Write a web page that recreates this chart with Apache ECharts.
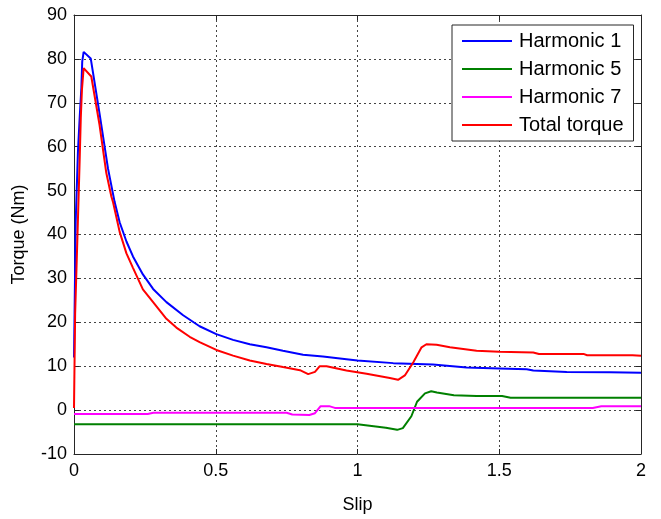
<!DOCTYPE html>
<html>
<head>
<meta charset="utf-8">
<script src="https://cdn.jsdelivr.net/npm/echarts@6/dist/echarts.min.js"></script>
<style>
html,body{margin:0;padding:0;background:#fff;}
#c{width:661px;height:519px;}
</style>
</head>
<body>
<div id="c"></div>
<script>
var seriesNames = ['Harmonic 1', 'Harmonic 5', 'Harmonic 7', 'Total torque'];
var seriesColors = ['#0000ff', '#008000', '#ff00ff', '#ff0000'];
var xTicks = [0, 0.5, 1, 1.5, 2];
var yTicks = [-10, 0, 10, 20, 30, 40, 50, 60, 70, 80, 90];

var h1Slip = [0, 0.002, 0.006, 0.014, 0.02, 0.026, 0.029, 0.034, 0.059, 0.09, 0.12, 0.143, 0.161, 0.185, 0.208, 0.243, 0.279, 0.326, 0.385, 0.443, 0.502, 0.561, 0.62, 0.679, 0.737, 0.808, 0.878, 0.961, 1.0, 1.126, 1.266, 1.385, 1.5, 1.597, 1.62, 1.738, 1.89, 2.0];
var h1Torque = [12, 22, 43, 59, 66.6, 73.4, 79.4, 81.6, 80.1, 67.6, 55, 47.5, 42.8, 38.4, 35, 30.9, 27.6, 24.6, 21.6, 19.1, 17.3, 16.0, 15.0, 14.3, 13.5, 12.6, 12.2, 11.6, 11.3, 10.7, 10.4, 9.7, 9.5, 9.3, 9.0, 8.7, 8.6, 8.5];

var h5Slip = [0, 1.0, 1.05, 1.1, 1.14, 1.16, 1.19, 1.21, 1.238, 1.26, 1.28, 1.34, 1.42, 1.51, 1.54, 2.0];
var h5Torque = [-3.2, -3.2, -3.6, -4.0, -4.5, -4.1, -1.4, 1.9, 3.8, 4.3, 4.0, 3.4, 3.2, 3.2, 2.8, 2.8];

var h7Slip = [0, 0.26, 0.28, 0.75, 0.77, 0.83, 0.85, 0.87, 0.9, 0.92, 1.83, 1.86, 2.0];
var h7Torque = [-0.9, -0.9, -0.6, -0.6, -1.0, -1.1, -0.7, 0.9, 0.9, 0.5, 0.5, 0.9, 0.9];

var totSlip = [0, 0.004, 0.012, 0.02, 0.024, 0.028, 0.034, 0.061, 0.09, 0.114, 0.132, 0.138, 0.161, 0.185, 0.208, 0.243, 0.279, 0.326, 0.361, 0.408, 0.443, 0.502, 0.561, 0.62, 0.679, 0.737, 0.797, 0.826, 0.85, 0.867, 0.891, 0.961, 1.032, 1.114, 1.143, 1.167, 1.197, 1.226, 1.243, 1.279, 1.326, 1.42, 1.5, 1.62, 1.64, 1.797, 1.81, 1.97, 2.0];
var totTorque = [0.5, 22, 39.2, 57, 66.6, 73, 77.9, 76, 65, 54, 48.6, 47.3, 40.6, 35.7, 32.4, 27.5, 24.6, 20.8, 18.8, 16.7, 15.5, 13.7, 12.4, 11.3, 10.5, 9.8, 9.1, 8.2, 8.7, 10.0, 10.0, 9.0, 8.3, 7.3, 6.9, 7.9, 10.9, 14.3, 15.0, 14.9, 14.3, 13.5, 13.3, 13.1, 12.8, 12.8, 12.5, 12.5, 12.4];

function pairs(xs, ys) { return xs.map(function (x, i) { return [x, ys[i]]; }); }
var allData = [pairs(h1Slip, h1Torque), pairs(h5Slip, h5Torque), pairs(h7Slip, h7Torque), pairs(totSlip, totTorque)];

var FONT = '"Liberation Sans", Arial, Helvetica, sans-serif';
var chart = echarts.init(document.getElementById('c'), null, {renderer: 'canvas'});

function xAx(pos, show) {
  return {
    type: 'value', position: pos, min: xTicks[0], max: xTicks[xTicks.length - 1], interval: 0.5,
    axisLine: {show: true, onZero: false, lineStyle: {color: '#262626', width: 1}},
    axisTick: {show: true, inside: true, length: 5, lineStyle: {color: '#262626'}},
    axisLabel: {show: show, color: '#000', fontSize: 18, fontFamily: FONT, margin: 8},
    splitLine: {show: show, lineStyle: {color: '#444', type: [2, 3], width: 1}},
    name: show ? 'Slip' : '', nameLocation: 'middle', nameGap: 42,
    nameTextStyle: {color: '#000', fontSize: 18, fontFamily: FONT}
  };
}
function yAx(pos, show) {
  return {
    type: 'value', position: pos, min: yTicks[0], max: yTicks[yTicks.length - 1], interval: 10,
    axisLine: {show: true, onZero: false, lineStyle: {color: '#262626', width: 1}},
    axisTick: {show: true, inside: true, length: 5, lineStyle: {color: '#262626'}},
    axisLabel: {show: show, color: '#000', fontSize: 18, fontFamily: FONT, margin: 7},
    splitLine: {show: show, lineStyle: {color: '#444', type: [2, 3], width: 1}},
    name: show ? 'Torque (Nm)' : '', nameLocation: 'middle', nameGap: 46,
    nameTextStyle: {color: '#000', fontSize: 18, fontFamily: FONT}
  };
}

var option = {
  backgroundColor: '#fff',
  animation: false,
  grid: {left: 74, right: 20, top: 15, bottom: 55, containLabel: false},
  legend: {
    left: 452, top: 25, orient: 'vertical',
    data: seriesNames,
    icon: 'rect', itemWidth: 50, itemHeight: 2, itemGap: 8,
    padding: [6, 10, 6, 10],
    borderColor: '#262626', borderWidth: 1, backgroundColor: '#fff',
    textStyle: {color: '#000', fontSize: 20, fontFamily: FONT, padding: [0, 0, 0, 2]}
  },
  xAxis: [xAx('bottom', true), xAx('top', false)],
  yAxis: [yAx('left', true), yAx('right', false)],
  series: seriesNames.map(function (n, i) {
    return {
      name: n, type: 'line', xAxisIndex: 0, yAxisIndex: 0,
      data: allData[i], showSymbol: false, symbol: 'none',
      lineStyle: {color: seriesColors[i], width: 2},
      itemStyle: {color: seriesColors[i]},
      z: i === 3 ? 3 : 2
    };
  })
};
chart.setOption(option);
</script>
</body>
</html>
